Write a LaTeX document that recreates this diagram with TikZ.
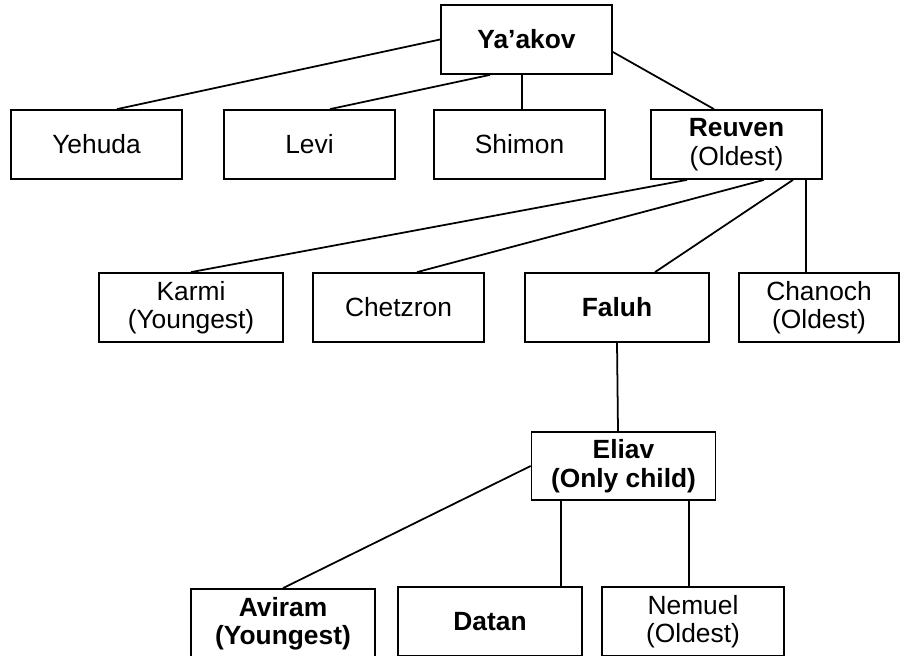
\documentclass[tikz,border=0pt]{standalone}
\usepackage{fontspec}
\setmainfont{Liberation Sans}
\begin{document}
\begin{tikzpicture}[x=0.02cm,y=-0.02cm,line width=1pt,
  person/.style={rectangle,draw=black,fill=white,align=center,inner sep=0pt,
    minimum width=3.42cm,minimum height=1.38cm,font=\fontsize{15}{16.2}\selectfont},
  wide/.style={person,minimum width=3.68cm}]
\useasboundingbox (0,0) rectangle (901,655);
\node (yakov) at (526.5,39.5)[person]{\textbf{Ya’akov}};
\node (yehuda) at (96.5,144.5)[person]{Yehuda};
\node (levi) at (309.5,144.5)[person]{Levi};
\node (shimon) at (519.5,144.5)[person]{Shimon};
\node (reuven) at (736.5,144.5)[person]{\textbf{Reuven}\\(Oldest)};
\node (karmi) at (191,307.5)[wide]{Karmi\\(Youngest)};
\node (chetzron) at (398.5,307.5)[person]{Chetzron};
\node (faluh) at (617,307.5)[wide]{\textbf{Faluh}};
\node (chanoch) at (819,307.5)[person,minimum width=3.2cm]{Chanoch\\(Oldest)};
\node (eliav) at (623.5,466)[wide,minimum height=1.36cm]{\textbf{Eliav}\\\textbf{(Only child)}};
\node (aviram) at (283,623.5)[wide]{\textbf{Aviram}\\\textbf{(Youngest)}};
\node (datan) at (490,621.5)[wide]{\textbf{Datan}};
\node (nemuel) at (693,621.5)[wide,minimum width=3.64cm]{Nemuel\\(Oldest)};

\draw (yakov.west)--([xshift=0.41cm]yehuda.north);
\draw ([xshift=-0.73cm]yakov.south)--([xshift=0.41cm]levi.north);
\draw ([xshift=-0.09cm]yakov.south)--([xshift=0.05cm]shimon.north);
\draw ([yshift=-0.25cm]yakov.east)--([xshift=-0.45cm]reuven.north);
\draw ([xshift=-0.99cm]reuven.south)--(karmi.north);
\draw ([xshift=0.55cm]reuven.south)--([xshift=0.37cm]chetzron.north);
\draw ([xshift=1.13cm]reuven.south)--([xshift=0.76cm]faluh.north);
\draw ([xshift=1.39cm]reuven.south)--([xshift=-0.26cm]chanoch.north);
\draw (faluh.south)--([xshift=-0.11cm]eliav.north);
\draw (eliav.west)--(aviram.north);
\draw ([xshift=-1.25cm]eliav.south)--([xshift=1.42cm]datan.north);
\draw ([xshift=1.31cm]eliav.south)--([xshift=-0.08cm]nemuel.north);
\end{tikzpicture}
\end{document}
